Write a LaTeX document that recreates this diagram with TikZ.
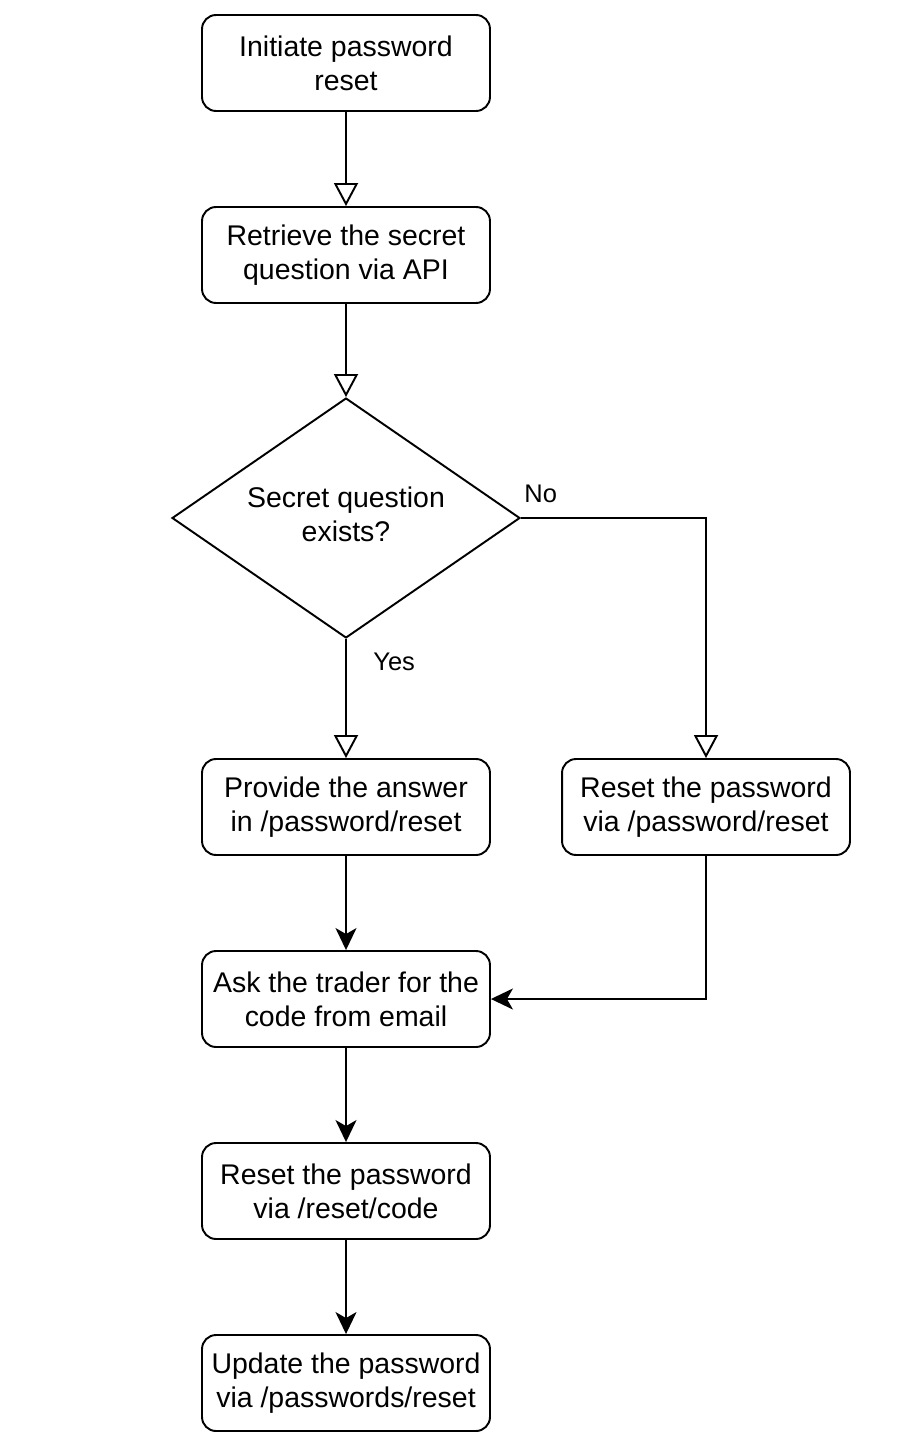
\documentclass[tikz,border=0pt]{standalone}
\usepackage{fontspec}
\setmainfont{Liberation Sans}
\usetikzlibrary{shapes.geometric,arrows.meta}

\begin{document}
\begin{tikzpicture}[x=0.02cm,y=-0.02cm,
    box/.style={draw, line width=1.1pt, rounded corners=0.28cm, minimum width=5.76cm, minimum height=1.92cm, align=center, inner sep=0pt, font=\fontsize{16.2}{19.3}\selectfont},
    decision/.style={draw, line width=1.1pt, diamond, aspect=1.45, minimum width=6.96cm, minimum height=4.8cm, align=center, inner sep=0pt, text depth=0.16cm, font=\fontsize{16.2}{19.3}\selectfont},
    hollow/.style={-{Triangle[open,length=0.46cm,width=0.48cm]}, line width=1.1pt},
    flow/.style={-{Stealth[length=0.44cm,width=0.42cm,inset=0.12cm]}, line width=1.1pt},
    lbl/.style={anchor=west, inner sep=0pt, font=\fontsize{14.5}{17}\selectfont}]
    \useasboundingbox (0,0) rectangle (900,1442);

      % main column
      \node[box] (init) at (346,63) {Initiate password\\reset};
      \node[box] (fetch) at (346,255) {Retrieve the secret\\question via API};
      \node[decision] (exists) at (346,518) {Secret question\\exists?};
      \node[box] (answer) at (346,807) {Provide the answer\\in /password/reset};
      \node[box] (direct) at (706,807) {Reset the password\\via /password/reset};
      \node[box] (askcode) at (346,999) {Ask the trader for the\\code from email};
      \node[box] (bycode) at (346,1191) {Reset the password\\via /reset/code};
      \node[box] (update) at (346,1383) {Update the password\\via /passwords/reset};

      % labels
      \node[lbl] (no) at (524,494) {No};
      \node[lbl] (yes) at (373,662) {Yes};

      \draw[hollow] (init) -- (fetch);
      \draw[hollow] (fetch) -- (exists);
      \draw[hollow] (exists) -- (answer);
      \draw[hollow] (exists.east) -| (direct.north);

      \draw[flow] (answer) -- (askcode);
      \draw[flow] (direct.south) |- (askcode.east);
      \draw[flow] (askcode) -- (bycode);
      \draw[flow] (bycode) -- (update);
  \end{tikzpicture}
\end{document}
